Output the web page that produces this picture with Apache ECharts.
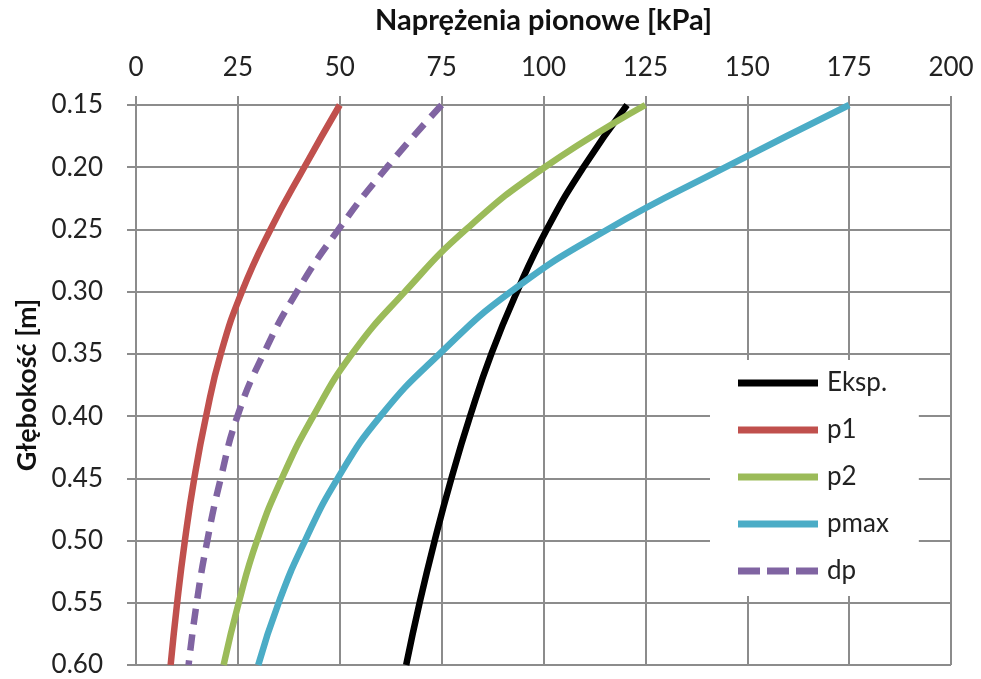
<!DOCTYPE html>
<html>
<head>
<meta charset="utf-8">
<script src="https://cdn.jsdelivr.net/npm/echarts@6/dist/echarts.min.js"></script>
<style>
html,body{margin:0;padding:0;background:#fff;}
#chart{width:981px;height:679px;}
</style>
</head>
<body>
<div id="chart"></div>
<script>
// Depths [m]
const depths = [0.15, 0.20, 0.25, 0.30, 0.35, 0.40, 0.45, 0.50, 0.55, 0.60];
// Vertical stresses [kPa]
const eksp = [120.5, 109.8, 100.8, 93.5, 87.2, 82.0, 77.4, 73.3, 69.6, 66.3];
const p1   = [50.0, 41.3, 33.0, 26.0, 20.8, 17.2, 14.3, 12.0, 10.1, 8.5];
const p2   = [125.0, 100.3, 81.0, 66.0, 53.0, 43.5, 35.8, 29.7, 25.2, 21.5];
const pmax = [175.0, 144.7, 115.7, 92.0, 74.5, 60.0, 49.5, 41.5, 35.0, 30.0];
const dp   = [75.0, 61.6, 49.7, 39.5, 31.3, 24.9, 20.8, 17.5, 14.9, 12.9];
const seriesNames = ['Eksp.', 'p1', 'p2', 'pmax', 'dp'];
const xTitle = 'Naprężenia pionowe [kPa]';
const yTitle = 'Głębokość [m]';

const FONT = 'Lato, "Open Sans", sans-serif';
const GRID = '#8c8c8c';

const SOLID_ICON = 'path://M0,0L80,0L80,7L0,7Z';
const DASH_ICON = 'path://M0,0L22,0L22,7L0,7Z M29,0L51,0L51,7L29,7Z M58,0L80,0L80,7L58,7Z';

function pairs(vals){ return vals.map((v,i)=>[v, depths[i]]); }
function mk(name, vals, color, dashed){
  return {
    name: name, type: 'line', data: pairs(vals),
    smooth: 0.5, symbol: 'none', showSymbol: false,
    lineStyle: {color: color, width: 6.5, type: dashed ? [16, 10] : 'solid', cap: 'butt'},
    itemStyle: {color: color},
    emphasis: {disabled: true}
  };
}

const chart = echarts.init(document.getElementById('chart'), null, {renderer: 'canvas'});
chart.setOption({
  animation: false,
  backgroundColor: '#fff',
  grid: {left: 136, right: 30, top: 105, bottom: 14, containLabel: false},
  xAxis: {
    type: 'value', position: 'top', min: 0, max: 200, interval: 25,
    name: xTitle, nameLocation: 'middle', nameGap: 70,
    nameTextStyle: {fontFamily: FONT, fontWeight: 'bold', fontSize: 29, color: '#111'},
    axisLine: {show: true, lineStyle: {color: GRID, width: 2}},
    axisTick: {show: true, length: 9, lineStyle: {color: GRID, width: 2}},
    axisLabel: {fontFamily: FONT, fontSize: 26, color: '#222', margin: 24},
    splitLine: {show: true, lineStyle: {color: GRID, width: 2}}
  },
  yAxis: {
    type: 'value', inverse: true, min: 0.15, max: 0.60, interval: 0.05,
    name: yTitle, nameLocation: 'middle', nameGap: 94, nameRotate: 90,
    nameTextStyle: {fontFamily: FONT, fontWeight: 'bold', fontSize: 27, color: '#111'},
    axisLine: {show: true, lineStyle: {color: GRID, width: 2}},
    axisTick: {show: true, length: 9, lineStyle: {color: GRID, width: 2}},
    axisLabel: {fontFamily: FONT, fontSize: 26, color: '#222', margin: 33,
      formatter: v => v.toFixed(2)},
    splitLine: {show: true, lineStyle: {color: GRID, width: 2}}
  },
  legend: {
    orient: 'vertical', left: 710, top: 360,
    data: seriesNames.map((n, i) => ({name: n, icon: i === 4 ? DASH_ICON : SOLID_ICON})),
    backgroundColor: '#fff',
    padding: [8, 30, 10, 28],
    itemWidth: 82, itemHeight: 7, itemGap: 17,
    textStyle: {fontFamily: FONT, fontSize: 26, color: '#222', lineHeight: 30, padding: [0, 0, 0, 3]}
  },
  series: [
    mk(seriesNames[0], eksp, '#000000', false),
    mk(seriesNames[1], p1, '#C0504D', false),
    mk(seriesNames[2], p2, '#9BBB59', false),
    mk(seriesNames[3], pmax, '#4BACC6', false),
    mk(seriesNames[4], dp, '#8064A2', true)
  ]
});
</script>
</body>
</html>
